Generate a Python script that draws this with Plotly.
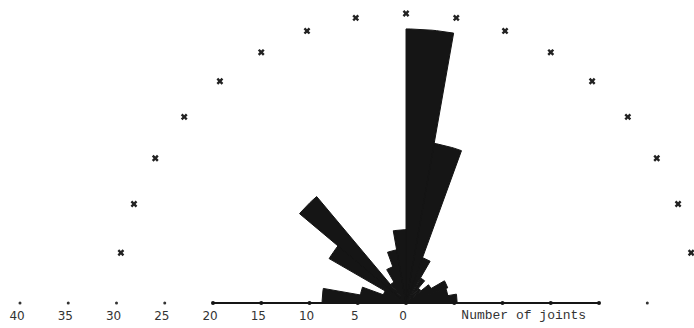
import numpy as np
import plotly.graph_objects as go

# Rose diagram data: 10-degree sectors, angle measured clockwise from north
sector_start = [-90, -80, -70, -60, -50, -40, -30, -20, -10, 0, 10, 20, 30, 40, 50, 60, 70, 80]
joint_counts = [8.7, 4.8, 2.5, 9.2, 14.4, 2.5, 4.0, 5.6, 7.6, 28.4, 16.8, 5.0, 3.0, 2.0, 3.0, 4.6, 4.4, 5.3]
sector_width = 10

# Reference semicircle (dotted) at 30 joints
circle_radius = 30
circle_angles = [-80, -70, -60, -50, -40, -30, -20, -10, 0, 10, 20, 30, 40, 50, 60, 70, 80]

# Scale axis
scale_ticks = [-20, -15, -10, -5, 0, 5, 10, 15, 20]
outer_dots = [-40, -35, -30, -25, 25, 30]
label_values = [-40, -35, -30, -25, -20, -15, -10, -5, 0]
label_texts = ["40", "35", "30", "25", "20", "15", "10", "5", "0"]
axis_title = "Number of joints"

INK = "#151515"

# Build petal polygons from the data
px_, py_ = [], []
for a0, r in zip(sector_start, joint_counts):
    angs = np.radians(np.linspace(a0, a0 + sector_width, 12))
    xs = [0.0] + list(r * np.sin(angs)) + [0.0]
    ys = [0.0] + list(r * np.cos(angs)) + [0.0]
    px_ += xs + [None]
    py_ += ys + [None]

fig = go.Figure()

fig.add_trace(go.Scatter(
    x=px_, y=py_, mode="lines", fill="toself",
    fillcolor=INK, line=dict(color=INK, width=1),
    hoverinfo="skip", showlegend=False))

# dotted reference semicircle
ca = np.radians(circle_angles)
fig.add_trace(go.Scatter(
    x=circle_radius * np.sin(ca), y=circle_radius * np.cos(ca),
    mode="markers", marker=dict(symbol="x", size=6, color="#222222",
                                line=dict(width=0)),
    hoverinfo="skip", showlegend=False, cliponaxis=False))

# scale line
fig.add_trace(go.Scatter(
    x=[scale_ticks[0], scale_ticks[-1]], y=[0, 0], mode="lines",
    line=dict(color=INK, width=2), hoverinfo="skip", showlegend=False))
fig.add_trace(go.Scatter(
    x=scale_ticks, y=[0] * len(scale_ticks), mode="markers",
    marker=dict(symbol="circle", size=4, color=INK),
    hoverinfo="skip", showlegend=False))
fig.add_trace(go.Scatter(
    x=outer_dots, y=[0] * len(outer_dots), mode="markers",
    marker=dict(symbol="circle", size=3, color="#333333"),
    hoverinfo="skip", showlegend=False))

# labels
fig.add_trace(go.Scatter(
    x=[v - 0.3 for v in label_values], y=[-1.45] * len(label_values),
    mode="text", text=label_texts,
    textfont=dict(family="DejaVu Sans", size=12, color="#333333"),
    hoverinfo="skip", showlegend=False))
fig.add_trace(go.Scatter(
    x=[12.2], y=[-1.35], mode="text", text=[axis_title],
    textfont=dict(family="Liberation Mono", size=13, color="#333333"),
    hoverinfo="skip", showlegend=False))

fig.update_layout(
    width=694, height=328,
    margin=dict(l=0, r=0, t=0, b=0),
    paper_bgcolor="white", plot_bgcolor="white",
    xaxis=dict(range=[-42.07, 29.84], visible=False, fixedrange=True),
    yaxis=dict(range=[-2.59, 31.40], visible=False, fixedrange=True),
)

fig.write_html(
    "out.html",
    config={"displayModeBar": False, "staticPlot": True},
    post_script="document.body.style.margin='0';document.body.style.overflow='hidden';",
)
